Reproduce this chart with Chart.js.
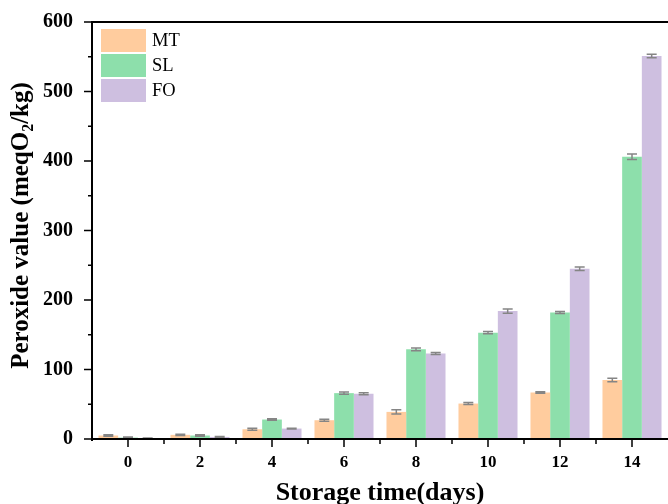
<!DOCTYPE html>
<html>
<head>
<meta charset="utf-8">
<script src="https://cdn.jsdelivr.net/npm/chart.js@4.4.1/dist/chart.umd.min.js"></script>
<style>
  html, body { margin: 0; padding: 0; background: #fff; }
  #wrap { width: 668px; height: 504px; }
</style>
</head>
<body>
<div id="wrap"><canvas id="pvChart" width="668" height="504"></canvas></div>
<script>
const days = ["0", "2", "4", "6", "8", "10", "12", "14"];
const mtValues = [5, 6, 14, 27, 39, 51, 67, 85];
const slValues = [2, 5, 28, 66, 129, 153, 182, 406];
const foValues = [1, 3, 15, 65, 123, 184, 245, 551];
const mtErr = [1, 1, 1.5, 1.5, 3, 1.5, 1, 2.5];
const slErr = [1, 1, 1, 1.5, 2, 1.5, 1.5, 4];
const foErr = [0.5, 0.5, 0.5, 1.5, 1.5, 3, 2.5, 2.5];
const yTicks = [0, 100, 200, 300, 400, 500, 600];

const serif = "'Liberation Serif', 'Times New Roman', serif";

// error bars, drawn on top of the bars
const errorBars = {
  id: "errorBars",
  afterDatasetsDraw(chart) {
    const ctx = chart.ctx;
    const y = chart.scales.y;
    ctx.save();
    ctx.strokeStyle = "#858585";
    ctx.lineWidth = 1.5;
    chart.data.datasets.forEach((ds, i) => {
      const meta = chart.getDatasetMeta(i);
      meta.data.forEach((bar, j) => {
        const v = ds.data[j];
        const e = ds.errors[j];
        const top = y.getPixelForValue(v + e);
        const bot = y.getPixelForValue(v - e);
        ctx.beginPath();
        ctx.moveTo(bar.x, top); ctx.lineTo(bar.x, bot);
        ctx.moveTo(bar.x - 5, top); ctx.lineTo(bar.x + 5, top);
        ctx.moveTo(bar.x - 5, bot); ctx.lineTo(bar.x + 5, bot);
        ctx.stroke();
      });
    });
    ctx.restore();
  }
};

// axis lines, tick marks, y title with subscript, legend
const frame = {
  id: "frame",
  afterDraw(chart) {
    const ctx = chart.ctx;
    const a = chart.chartArea;
    const x = chart.scales.x;
    const y = chart.scales.y;
    ctx.save();
    ctx.strokeStyle = "#000";
    ctx.lineWidth = 2;
    ctx.beginPath();
    ctx.moveTo(a.left, a.bottom + 2); ctx.lineTo(a.left, a.top);
    ctx.lineTo(a.right, a.top);
    ctx.moveTo(a.left, a.bottom); ctx.lineTo(a.right, a.bottom);
    ctx.stroke();

    ctx.lineWidth = 1.5;
    ctx.beginPath();
    for (let v = 0; v <= 600; v += 50) {
      const py = y.getPixelForValue(v);
      const len = v % 100 === 0 ? 8 : 4;
      ctx.moveTo(a.left - len, py); ctx.lineTo(a.left, py);
    }
    const step = x.getPixelForValue(1) - x.getPixelForValue(0);
    days.forEach((d, i) => {
      const px = x.getPixelForValue(i);
      ctx.moveTo(px, a.bottom); ctx.lineTo(px, a.bottom + 8);
      const mx = px + step / 2;
      if (i < days.length - 1) {
        ctx.moveTo(mx, a.bottom); ctx.lineTo(mx, a.bottom + 5);
      }
    });
    ctx.stroke();

    // y title
    ctx.fillStyle = "#000";
    ctx.translate(22, (a.top + a.bottom) / 2 - 5);
    ctx.rotate(-Math.PI / 2);
    const big = "bold 25px " + serif;
    const small = "bold 16px " + serif;
    const p1 = "Peroxide value (meqO", p2 = "2", p3 = "/kg)";
    ctx.font = big; const w1 = ctx.measureText(p1).width, w3 = ctx.measureText(p3).width;
    ctx.font = small; const w2 = ctx.measureText(p2).width;
    let sx = -(w1 + w2 + w3) / 2;
    ctx.textBaseline = "middle";
    ctx.font = big; ctx.fillText(p1, sx, 0); sx += w1;
    ctx.font = small; ctx.fillText(p2, sx, 7); sx += w2;
    ctx.font = big; ctx.fillText(p3, sx, 0);
    ctx.setTransform(1, 0, 0, 1, 0, 0);

    // legend
    ctx.font = "18.5px " + serif;
    ctx.textBaseline = "middle";
    chart.data.datasets.forEach((ds, i) => {
      const ly = a.top + 7 + i * 25;
      ctx.fillStyle = ds.backgroundColor;
      ctx.fillRect(a.left + 9, ly, 45, 23);
      ctx.fillStyle = "#000";
      ctx.fillText(ds.label, a.left + 60, ly + 12);
    });
    ctx.restore();
  }
};

new Chart(document.getElementById("pvChart"), {
  type: "bar",
  data: {
    labels: days,
    datasets: [
      { label: "MT", data: mtValues, errors: mtErr, backgroundColor: "#FFCC9E" },
      { label: "SL", data: slValues, errors: slErr, backgroundColor: "#8DDFAB" },
      { label: "FO", data: foValues, errors: foErr, backgroundColor: "#CEBFE0" },
    ],
  },
  options: {
    responsive: false,
    animation: false,
    layout: { padding: { top: 22, right: 0, left: 0, bottom: 0 } },
    datasets: { bar: { categoryPercentage: 0.82, barPercentage: 1.0 } },
    plugins: { legend: { display: false }, tooltip: { enabled: false } },
    scales: {
      x: {
        afterFit: (s) => { s.height = 65; s.paddingLeft = 0; s.paddingRight = 0; },
        grid: { display: false, drawTicks: false },
        border: { display: false },
        ticks: { color: "#000", padding: 13, font: { family: serif, size: 17, weight: "bold" } },
        title: {
          display: true, text: "Storage time(days)", color: "#000",
          padding: { top: 0, bottom: -5 },
          font: { family: serif, size: 26, weight: "bold" },
        },
      },
      y: {
        min: 0, max: 600,
        afterFit: (s) => { s.width = 92; s.paddingTop = 0; s.paddingBottom = 0; },
        afterBuildTicks: (s) => { s.ticks = yTicks.map((v) => ({ value: v })); },
        grid: { display: false, drawTicks: false },
        border: { display: false },
        ticks: { color: "#000", padding: 19, font: { family: serif, size: 20, weight: "bold" } },
      },
    },
  },
  plugins: [errorBars, frame],
});
</script>
</body>
</html>
